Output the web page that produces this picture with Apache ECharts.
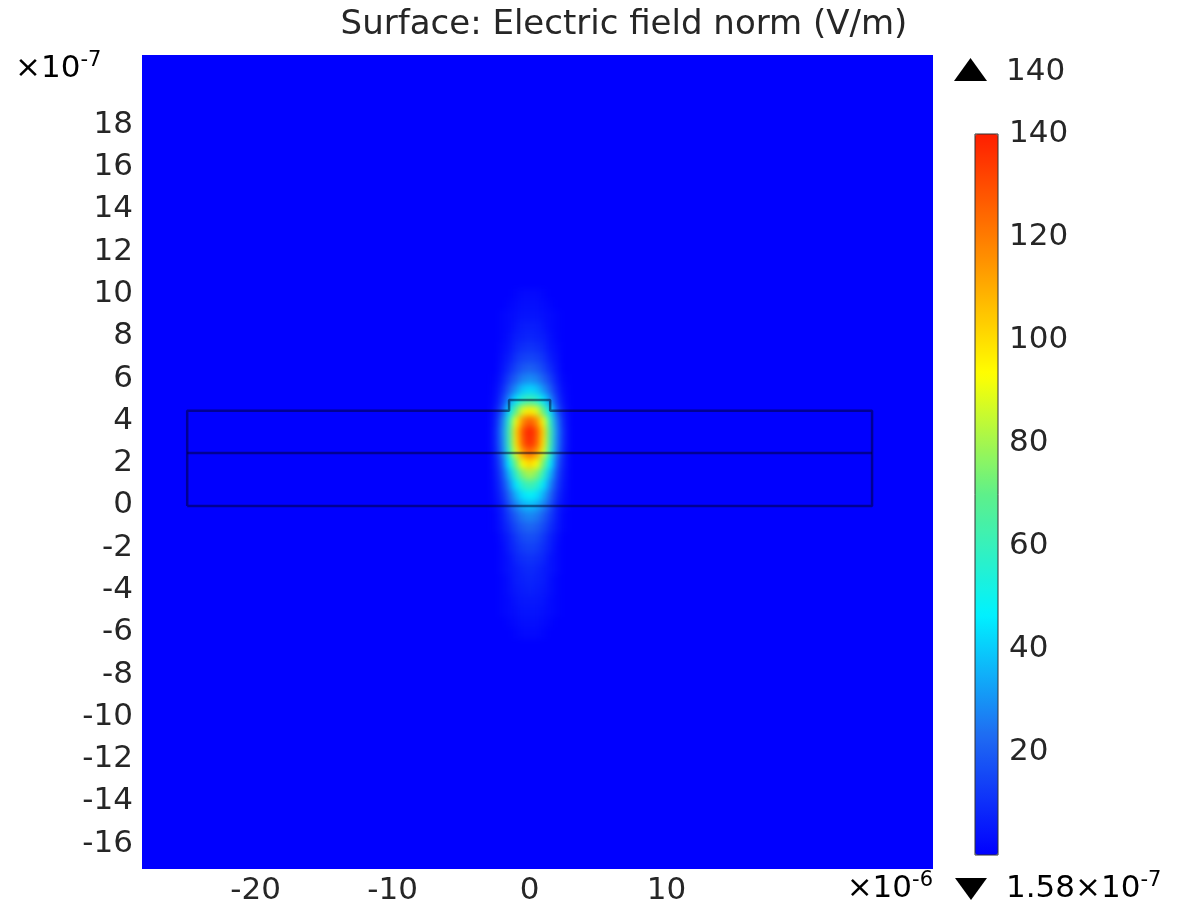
<!DOCTYPE html>
<html>
<head>
<meta charset="utf-8">
<title>Surface: Electric field norm (V/m)</title>
<script src="https://cdn.jsdelivr.net/npm/echarts@6/dist/echarts.min.js"></script>
<style>
  html, body { margin: 0; padding: 0; background: #fff; }
  #wrap { position: relative; width: 1192px; height: 906px; }
  .layer { position: absolute; left: 0; top: 0; width: 1192px; height: 906px; }
  /* the field layer is softened so the sample cells read as a smooth surface */
  #glow { filter: blur(3px); pointer-events: none; }
  #lines { pointer-events: none; }
</style>
</head>
<body>
<div id="wrap">
  <div id="base" class="layer"></div>
  <div id="glow" class="layer"></div>
  <div id="lines" class="layer"></div>
</div>
<script>
// axes: x in 1e-6 m, y in 1e-7 m
const xRange = [-28.3, 29.45]
const yRange = [-17.2, 21.3]
const xTicks = [-20, -10, 0, 10]
const yTicks = [-16, -14, -12, -10, -8, -6, -4, -2, 0, 2, 4, 6, 8, 10, 12, 14, 16, 18]

// colour bar (V/m)
const colorRange = [0, 140]
const colorTicks = [20, 40, 60, 80, 100, 120, 140]
const rainbow = ['#0000ff', '#1f6cf2', '#00f2ff', '#5ef08a', '#ffff00', '#ff8c00', '#ff1e00']

// geometry outline (x 1e-6 m, y 1e-7 m)
const outline = [[-25, 0], [25, 0], [25, 4.5], [1.5, 4.5], [1.5, 5], [-1.5, 5], [-1.5, 4.5], [-25, 4.5], [-25, 0]]
const midLine = [[-25, 2.5], [25, 2.5]]

const fieldX = [-2.5, -2, -1.5, -1, -0.5, 0, 0.5, 1, 1.5, 2, 2.5]
const fieldY = [10, 9.5, 9, 8.5, 8, 7.5, 7, 6.5, 6, 5.5, 5, 4.5, 4, 3.5, 3, 2.5, 2, 1.5, 1, 0.5,
  0, -0.5, -1, -1.5, -2, -2.5, -3, -3.5, -4, -4.5, -5, -5.5, -6]
const fieldRows = [
  [0, 0, 0, 1, 2, 2, 2, 1, 0, 0, 0],
  [0, 0, 1, 2, 3, 3, 3, 2, 1, 0, 0],
  [0, 1, 2, 3, 4, 4, 4, 3, 2, 1, 0],
  [0, 1, 2, 4, 6, 6, 6, 4, 2, 1, 0],
  [0, 1, 3, 6, 7, 8, 7, 6, 3, 1, 0],
  [0, 2, 4, 8, 10, 11, 10, 8, 4, 2, 0],
  [0, 3, 6, 11, 14, 15, 14, 11, 6, 3, 0],
  [0, 4, 9, 15, 19, 21, 19, 15, 9, 4, 0],
  [1, 6, 14, 21, 27, 29, 27, 21, 14, 6, 1],
  [2, 9, 20, 30, 39, 42, 39, 30, 20, 9, 2],
  [3, 13, 29, 45, 57, 62, 57, 45, 29, 13, 3],
  [5, 19, 44, 70, 89, 97, 89, 70, 44, 19, 5],
  [7, 26, 57, 91, 117, 127, 117, 91, 57, 26, 7],
  [8, 28, 62, 101, 129, 140, 129, 101, 62, 28, 8],
  [8, 27, 61, 99, 127, 138, 127, 99, 61, 27, 8],
  [7, 25, 56, 89, 114, 124, 114, 89, 56, 25, 7],
  [6, 20, 46, 73, 94, 102, 94, 73, 46, 20, 6],
  [5, 16, 36, 58, 75, 81, 75, 58, 36, 16, 5],
  [4, 13, 28, 45, 58, 63, 58, 45, 28, 13, 4],
  [3, 10, 22, 35, 44, 48, 44, 35, 22, 10, 3],
  [2, 7, 17, 27, 34, 37, 34, 27, 17, 7, 2],
  [1, 6, 13, 20, 26, 28, 26, 20, 13, 6, 1],
  [1, 5, 10, 16, 20, 22, 20, 16, 10, 5, 1],
  [0, 3, 7, 12, 16, 17, 16, 12, 7, 3, 0],
  [0, 2, 6, 10, 13, 14, 13, 10, 6, 2, 0],
  [0, 2, 4, 8, 10, 11, 10, 8, 4, 2, 0],
  [0, 2, 4, 6, 8, 9, 8, 6, 4, 2, 0],
  [0, 1, 3, 6, 7, 8, 7, 6, 3, 1, 0],
  [0, 1, 3, 5, 6, 7, 6, 5, 3, 1, 0],
  [0, 1, 2, 4, 5, 5, 5, 4, 2, 1, 0],
  [0, 1, 2, 3, 4, 4, 4, 3, 2, 1, 0],
  [0, 0, 1, 2, 3, 3, 3, 2, 1, 0, 0],
  [0, 0, 0, 1, 2, 2, 2, 1, 0, 0, 0]
]

const font = 'DejaVu Sans'
const ink = '#262626'
const cellHalf = 0.25

let fieldData = []
fieldRows.forEach((row, i) => {
  row.forEach((v, j) => fieldData.push([fieldX[j], fieldY[i], v]))
})

// scale text with a raised exponent, e.g. x10^-7
const sciRich = {
  b: { fontSize: 31, fontFamily: font, color: ink, lineHeight: 34, verticalAlign: 'bottom' },
  s: { fontSize: 21, fontFamily: font, color: ink, lineHeight: 34, verticalAlign: 'top' }
}

// same plot frame for every layer, axes only drawn on the base layer
function frame(showAxes) {
  return {
    grid: [{
      left: 142, top: 55, width: 791, height: 815,
      show: showAxes, backgroundColor: '#0000ff', borderWidth: 0
    }],
    xAxis: [{
      type: 'value', gridIndex: 0, min: xRange[0], max: xRange[1], show: showAxes,
      axisLine: { show: false }, axisTick: { show: false }, splitLine: { show: false },
      axisLabel: { customValues: xTicks, fontSize: 31, fontFamily: font, color: ink, margin: 6 }
    }],
    yAxis: [{
      type: 'value', gridIndex: 0, min: yRange[0], max: yRange[1], show: showAxes,
      axisLine: { show: false }, axisTick: { show: false }, splitLine: { show: false },
      axisLabel: { customValues: yTicks, fontSize: 31, fontFamily: font, color: ink, margin: 9 }
    }]
  }
}

// base layer: frame, labels, colour bar
let baseOpt = frame(true)
baseOpt.animation = false
baseOpt.grid.push({
  left: 975, top: 134, width: 23, height: 721, z: 10,
  show: true, backgroundColor: 'transparent', borderColor: '#333', borderWidth: 1
})
baseOpt.xAxis.push({ type: 'value', gridIndex: 1, show: false })
baseOpt.yAxis.push({
  type: 'value', gridIndex: 1, position: 'right', min: colorRange[0], max: colorRange[1],
  axisLine: { show: false }, splitLine: { show: false }, axisTick: { show: false },
  axisLabel: { customValues: colorTicks, fontSize: 31, fontFamily: font, color: ink, margin: 11 }
})
baseOpt.visualMap = {
  type: 'continuous', min: colorRange[0], max: colorRange[1],
  left: 975, top: 134, itemWidth: 23, itemHeight: 721, padding: 0,
  calculable: false, hoverLink: false, seriesIndex: [],
  inRange: { color: rainbow }
}
baseOpt.graphic = [
  {
    type: 'text', x: 624, y: 25,
    style: { text: 'Surface: Electric field norm (V/m)', fontSize: 34, fontFamily: font, fill: ink, align: 'center', verticalAlign: 'middle' }
  },
  {
    type: 'text', x: 15, y: 67,
    style: { text: '{b|×10}{s|-7}', rich: sciRich, align: 'left', verticalAlign: 'middle' }
  },
  {
    type: 'text', x: 933, y: 887,
    style: { text: '{b|×10}{s|-6}', rich: sciRich, align: 'right', verticalAlign: 'middle' }
  },
  { type: 'polygon', shape: { points: [[954, 81], [987, 81], [970.5, 58]] }, style: { fill: '#000' } },
  {
    type: 'text', x: 1006, y: 72,
    style: { text: '140', fontSize: 31, fontFamily: font, fill: ink, align: 'left', verticalAlign: 'middle' }
  },
  { type: 'polygon', shape: { points: [[955, 878], [987, 878], [971, 900]] }, style: { fill: '#000' } },
  {
    type: 'text', x: 1006, y: 887,
    style: { text: '{b|1.58×10}{s|-7}', rich: sciRich, align: 'left', verticalAlign: 'middle' }
  }
]
baseOpt.series = []

// field layer
let glowOpt = frame(false)
glowOpt.animation = false
glowOpt.visualMap = {
  show: false, type: 'continuous', min: colorRange[0], max: colorRange[1],
  dimension: 2, seriesIndex: 0, inRange: { color: rainbow }
}
glowOpt.series = [{
  type: 'custom',
  silent: true,
  data: fieldData,
  renderItem: function (params, api) {
    let p0 = api.coord([api.value(0) - cellHalf, api.value(1) + cellHalf])
    let p1 = api.coord([api.value(0) + cellHalf, api.value(1) - cellHalf])
    return {
      type: 'rect',
      shape: { x: p0[0], y: p0[1], width: p1[0] - p0[0] + 0.6, height: p1[1] - p0[1] + 0.6 },
      style: { fill: api.visual('color') }
    }
  }
}]

// outline layer
let lineOpt = frame(false)
lineOpt.animation = false
lineOpt.series = [outline, midLine].map(pts => ({
  type: 'line',
  data: pts,
  symbol: 'none',
  silent: true,
  lineStyle: { color: 'rgba(0, 0, 40, 0.5)', width: 2.5 }
}))

echarts.init(document.getElementById('base')).setOption(baseOpt)
echarts.init(document.getElementById('glow')).setOption(glowOpt)
echarts.init(document.getElementById('lines')).setOption(lineOpt)
</script>
</body>
</html>
